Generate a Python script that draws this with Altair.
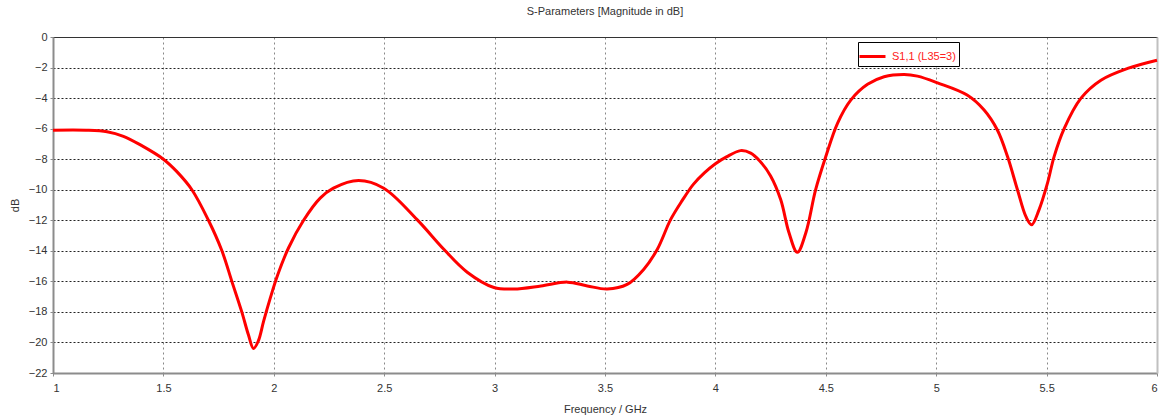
import altair as alt
import pandas as pd

freq = [1.0, 1.15, 1.245, 1.319, 1.394, 1.5, 1.56, 1.629, 1.704, 1.765,
        1.81, 1.855, 1.885, 1.908, 1.93, 1.954, 1.984, 2.017, 2.067, 2.135,
        2.21, 2.27, 2.384, 2.498, 2.649, 2.77, 2.876, 2.997, 3.087, 3.21,
        3.33, 3.42, 3.51, 3.60, 3.676, 3.737, 3.797, 3.85, 3.9, 3.95,
        4.0, 4.05, 4.114, 4.16, 4.2, 4.25, 4.296, 4.333, 4.371, 4.41,
        4.454, 4.5, 4.553, 4.613, 4.689, 4.764, 4.855, 4.915, 5.006, 5.14,
        5.217, 5.277, 5.323, 5.368, 5.406, 5.432, 5.466, 5.504, 5.534, 5.58,
        5.655, 5.746, 5.867, 6.0]
s11_db = [-6.1, -6.1, -6.2, -6.5, -7.05, -8.0, -8.8, -10.0, -12.0, -14.0,
          -16.0, -18.0, -19.5, -20.4, -19.9, -18.6, -17.1, -15.6, -13.8, -12.0,
          -10.55, -9.9, -9.4, -9.9, -11.96, -13.9, -15.4, -16.4, -16.5, -16.3,
          -16.05, -16.3, -16.5, -16.2, -15.2, -13.9, -11.96, -10.7, -9.65, -8.9,
          -8.3, -7.85, -7.44, -7.6, -8.1, -9.1, -10.66, -12.8, -14.1, -12.8,
          -10.0, -7.83, -5.65, -4.13, -3.1, -2.6, -2.45, -2.56, -3.0, -3.8,
          -4.78, -6.09, -7.83, -10.0, -11.75, -12.3, -11.3, -9.57, -7.83, -5.98,
          -4.02, -2.83, -2.06, -1.52]
series_name = "S1,1 (L35=3)"
x_ticks = [1, 1.5, 2, 2.5, 3, 3.5, 4, 4.5, 5, 5.5, 6]
y_ticks = [0, -2, -4, -6, -8, -10, -12, -14, -16, -18, -20, -22]

df = pd.DataFrame({"f": freq, "db": s11_db, "s": [series_name] * len(freq)})

FONT = "Liberation Sans"

xscale = alt.Scale(domain=[1, 6], nice=False, zero=False)
yscale = alt.Scale(domain=[-22, 0], nice=False, zero=False)

main = alt.Chart(df).mark_line(strokeWidth=3, interpolate="catmull-rom").encode(
    x=alt.X("f:Q", scale=xscale,
            axis=alt.Axis(values=x_ticks, title="Frequency / GHz",
                          format="~g", grid=True, gridColor="#888888",
                          gridDash=[2, 3], gridWidth=1,
                          domainColor="#8c8c8c", domainWidth=2,
                          tickColor="#8c8c8c", tickSize=3,
                          labelPadding=6, titlePadding=10)),
    y=alt.Y("db:Q", scale=yscale,
            axis=alt.Axis(values=y_ticks, title="dB", format="~g",
                          grid=True, gridColor="#222222", gridDash=[2, 2],
                          gridWidth=1, domainColor="#8c8c8c", domainWidth=2,
                          tickColor="#8c8c8c", tickSize=3, labelPadding=3,
                          titlePadding=8)),
    color=alt.Color("s:N", scale=alt.Scale(domain=[series_name], range=["#ff0000"]),
                    legend=alt.Legend(title=None, orient="none", legendX=805,
                                      legendY=5, symbolType="M-1.3,0H1.3",
                                      symbolSize=400, symbolStrokeWidth=3,
                                      labelColor="#ff2020", labelFontSize=11,
                                      labelFont=FONT, strokeColor="#000000",
                                      fillColor="#ffffff", padding=3,
                                      labelOffset=8)),
)

frame = alt.Chart(df).mark_line(opacity=0).encode(
    x=alt.X("f:Q", scale=xscale,
            axis=alt.Axis(orient="top", labels=False, ticks=False,
                          grid=False, title=None, domainColor="#333333",
                          domainWidth=1)),
    y=alt.Y("db:Q", scale=yscale,
            axis=alt.Axis(orient="right", labels=False, ticks=False,
                          grid=False, title=None, domainColor="#c0c0c0",
                          domainWidth=2)),
)

chart = alt.layer(main, frame).resolve_axis(
    x="independent", y="independent"
).properties(
    width=1104, height=336,
    title=alt.TitleParams("S-Parameters [Magnitude in dB]", fontSize=11,
                          font=FONT, fontWeight="normal", color="#333333",
                          anchor="middle", offset=14),
    autosize=alt.AutoSizeParams(type="none"),
    padding={"left": 53, "top": 37, "right": 4, "bottom": 42},
).configure_view(stroke=None).configure_axis(
    labelFont=FONT, labelFontSize=11, labelColor="#333333",
    titleFont=FONT, titleFontSize=11, titleColor="#333333",
    titleFontWeight="normal",
)

chart.save("out.html", embed_options={"renderer": "svg", "actions": False})
